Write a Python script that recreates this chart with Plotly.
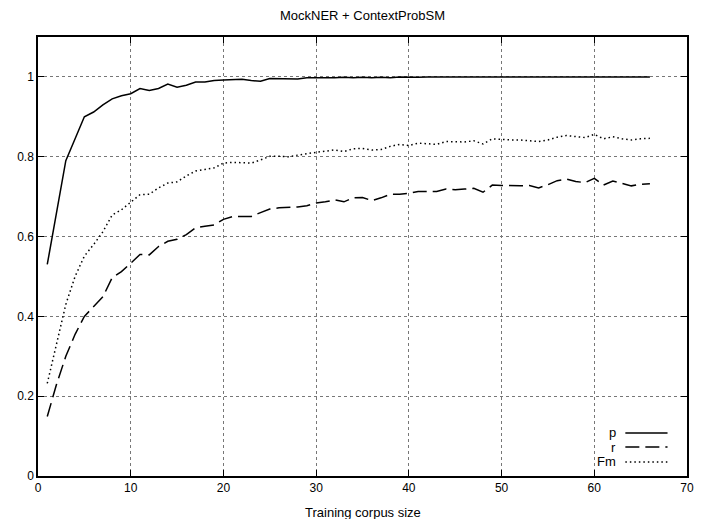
import plotly.graph_objects as go

x_vals = list(range(1, 67))

p_vals = [0.53, 0.66, 0.79, 0.845, 0.90, 0.912, 0.93, 0.945, 0.953, 0.958,
          0.971, 0.966, 0.971, 0.982, 0.974, 0.979, 0.987, 0.987, 0.991, 0.992,
          0.993, 0.994, 0.991, 0.989, 0.996, 0.996, 0.995, 0.995, 0.998, 0.998,
          0.997, 0.998, 0.999, 0.998, 0.999, 0.998, 0.999, 0.998, 1.0, 0.999,
          0.999, 1.0, 1.0, 0.999, 1.0, 1.0, 0.999, 1.0, 1.0, 1.0,
          0.999, 1.0, 1.0, 1.0, 1.0, 1.0, 1.0, 1.0, 1.0, 1.0,
          1.0, 1.0, 1.0, 1.0, 1.0, 1.0]

r_vals = [0.149, 0.23, 0.30, 0.355, 0.40, 0.425, 0.449, 0.497, 0.512, 0.533,
          0.555, 0.554, 0.575, 0.588, 0.593, 0.605, 0.622, 0.626, 0.629, 0.643,
          0.650, 0.650, 0.650, 0.660, 0.669, 0.672, 0.673, 0.674, 0.677, 0.684,
          0.687, 0.692, 0.687, 0.697, 0.698, 0.690, 0.697, 0.706, 0.706, 0.708,
          0.713, 0.713, 0.713, 0.719, 0.717, 0.719, 0.721, 0.711, 0.729, 0.728,
          0.727, 0.727, 0.728, 0.722, 0.730, 0.740, 0.744, 0.738, 0.735, 0.746,
          0.729, 0.739, 0.733, 0.727, 0.731, 0.732]

fm_vals = [0.232, 0.33, 0.43, 0.50, 0.551, 0.58, 0.612, 0.654, 0.667, 0.686,
           0.705, 0.706, 0.722, 0.734, 0.737, 0.752, 0.764, 0.768, 0.772, 0.784,
           0.786, 0.785, 0.784, 0.792, 0.801, 0.801, 0.800, 0.804, 0.808, 0.811,
           0.814, 0.817, 0.813, 0.820, 0.821, 0.817, 0.818, 0.826, 0.831, 0.828,
           0.834, 0.832, 0.831, 0.838, 0.837, 0.837, 0.840, 0.832, 0.845, 0.843,
           0.842, 0.842, 0.840, 0.838, 0.842, 0.849, 0.853, 0.851, 0.848, 0.856,
           0.845, 0.850, 0.845, 0.842, 0.845, 0.846]

series_names = ["p", "r", "Fm"]
x_ticks = [0, 10, 20, 30, 40, 50, 60, 70]
y_ticks = [0, 0.2, 0.4, 0.6, 0.8, 1]
y_tick_labels = ["0", "0.2", "0.4", "0.6", "0.8", "1"]

FONT = "Liberation Sans, Arial, sans-serif"
dashes = ["solid", "14px,6px", "1.5px,3px"]

fig = go.Figure()
for name, vals, dash in zip(series_names, [p_vals, r_vals, fm_vals], dashes):
    fig.add_trace(go.Scatter(x=x_vals, y=vals, mode="lines", name=name,
                             line=dict(color="black", width=1.5, dash=dash),
                             showlegend=False))

# Manual gnuplot-style legend (text right-aligned, sample on the right)
leg_y = [0.098, 0.066, 0.032]
for name, dash, ly in zip(series_names, dashes, leg_y):
    fig.add_annotation(xref="paper", yref="paper", x=0.893, y=ly, text=name,
                       showarrow=False, xanchor="right", yanchor="middle",
                       font=dict(family=FONT, size=13, color="black"))
    fig.add_shape(type="line", xref="paper", yref="paper", x0=0.905, x1=0.970,
                  y0=ly, y1=ly, line=dict(color="black", width=1.5, dash=dash))

fig.add_annotation(xref="paper", yref="paper", x=0.5, y=0, yshift=-27,
                   text="Training corpus size", showarrow=False,
                   xanchor="center", yanchor="top",
                   font=dict(family=FONT, size=13, color="black"))

axis_common = dict(showline=True, linecolor="black", linewidth=1.5, mirror="allticks",
                   ticks="inside", ticklen=6, tickcolor="black", tickwidth=1,
                   showgrid=True, gridcolor="#777", griddash="dot", gridwidth=1,
                   zeroline=False, tickfont=dict(family=FONT, size=12, color="black"))

# The page body adds an 8px offset, so the figure is sized to fill the rest of the window.
fig.update_layout(
    width=695, height=511,
    margin=dict(l=30, r=9, t=29, b=43),
    paper_bgcolor="white", plot_bgcolor="white",
    title=dict(text="MockNER + ContextProbSM", xref="paper", x=0.5, xanchor="center",
               y=0.985, yanchor="middle",
               font=dict(family=FONT, size=13, color="black")),
    xaxis=dict(range=[0, 70], tickvals=x_ticks, **axis_common),
    yaxis=dict(range=[0, 1.1], tickvals=y_ticks, ticktext=y_tick_labels, **axis_common),
)

fig.write_html("out.html")
